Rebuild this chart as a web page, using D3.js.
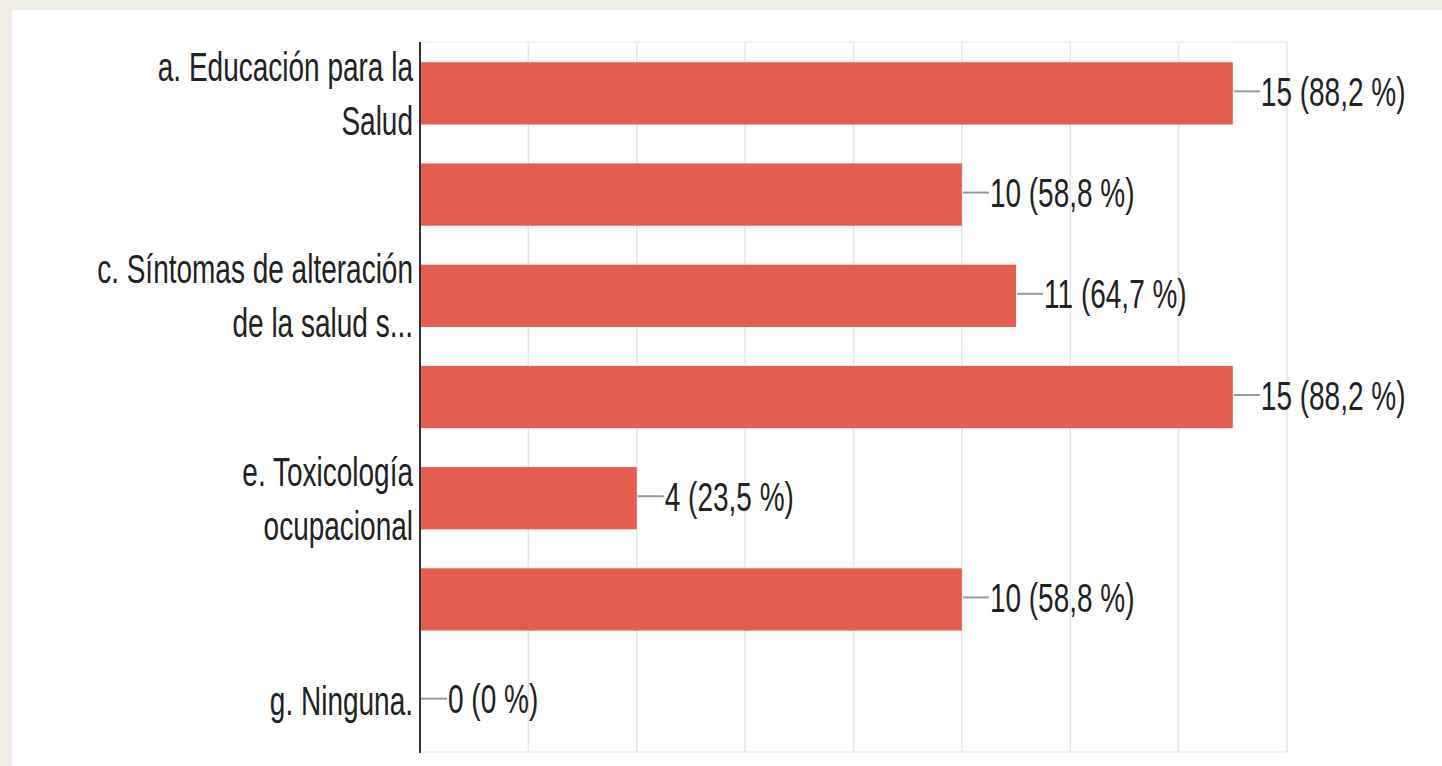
<!DOCTYPE html>
<html>
<head>
<meta charset="utf-8">
<script src="https://cdn.jsdelivr.net/npm/d3@7"></script>
<style>
  html, body { margin: 0; padding: 0; background: #efede4; }
  svg { display: block; }
</style>
</head>
<body>
<svg id="chart"></svg>
<script>
// chart data
const categories = ["a", "b", "c", "d", "e", "f", "g"];
const labelLines = [
    ["a. Educación para la", "Salud"],
    [],
    ["c. Síntomas de alteración", "de la salud s..."],
    [],
    ["e. Toxicología", "ocupacional"],
    [],
    ["g. Ninguna."]
];
const counts = [15, 10, 11, 15, 4, 10, 0];
const percents = ["88,2", "58,8", "64,7", "88,2", "23,5", "58,8", "0"];
const xTicks = [0, 2, 4, 6, 8, 10, 12, 14, 16];

const width = 1442;
const height = 766;
const fontSize = 40;
const squeeze = 0.7;

const svg = d3.select("#chart")
    .attr("width", width)
    .attr("height", height);

svg.append("rect")
    .attr("x", 12).attr("y", 10)
    .attr("width", width - 12).attr("height", height - 10)
    .attr("fill", "#ffffff");

const x = d3.scaleLinear().domain([0, 16]).range([420, 1287]);
const y = d3.scaleBand()
    .domain(categories)
    .range([42, 752])
    .paddingInner(0.385)
    .paddingOuter(0.2);

const rows = categories.map((c, i) => ({
    key: c, lines: labelLines[i], value: counts[i], pct: percents[i]
}));

// grid
svg.append("g")
    .selectAll("line")
    .data(xTicks.slice(1))
    .join("line")
    .attr("x1", d => x(d)).attr("x2", d => x(d))
    .attr("y1", 42).attr("y2", 752)
    .attr("stroke", "#e6e6e6")
    .attr("stroke-width", 1.5);

svg.append("g")
    .selectAll("line")
    .data([42, 752])
    .join("line")
    .attr("x1", x(0)).attr("x2", x(16))
    .attr("y1", d => d).attr("y2", d => d)
    .attr("stroke", "#eeeeee")
    .attr("stroke-width", 1.5);

// bars
svg.append("g")
    .selectAll("rect")
    .data(rows)
    .join("rect")
    .attr("x", x(0) + 1)
    .attr("y", d => y(d.key))
    .attr("width", d => Math.max(0, x(d.value) - x(0) - 1))
    .attr("height", y.bandwidth())
    .attr("fill", "#e35d50");

// axis line
svg.append("line")
    .attr("x1", x(0)).attr("x2", x(0))
    .attr("y1", 42).attr("y2", 753)
    .attr("stroke", "#333333")
    .attr("stroke-width", 2);

// leader lines + value labels
const mid = d => y(d.key) + y.bandwidth() / 2;

svg.append("g")
    .selectAll("line")
    .data(rows)
    .join("line")
    .attr("x1", d => x(d.value) + 1)
    .attr("x2", d => x(d.value) + 27)
    .attr("y1", d => mid(d) - 2)
    .attr("y2", d => mid(d) - 2)
    .attr("stroke", "#999999")
    .attr("stroke-width", 2);

svg.append("g")
    .attr("font-family", "'Liberation Sans', Arial, sans-serif")
    .attr("font-size", fontSize)
    .attr("fill", "#222222")
    .selectAll("text")
    .data(rows)
    .join("text")
    .attr("transform", d => `translate(${x(d.value) + 28},${mid(d) + 12.5}) scale(${squeeze},1)`)
    .text(d => `${d.value} (${d.pct} %)`);

// category labels
const lineGap = 54;
const labels = svg.append("g")
    .attr("font-family", "'Liberation Sans', Arial, sans-serif")
    .attr("font-size", fontSize)
    .attr("fill", "#222222")
    .attr("text-anchor", "end");

rows.forEach(r => {
    const n = r.lines.length;
    r.lines.forEach((line, j) => {
        const ty = mid(r) + 14.5 + (j - (n - 1) / 2) * lineGap;
        labels.append("text")
            .attr("transform", `translate(413,${ty}) scale(${squeeze},1)`)
            .text(line);
    });
});
</script>
</body>
</html>
